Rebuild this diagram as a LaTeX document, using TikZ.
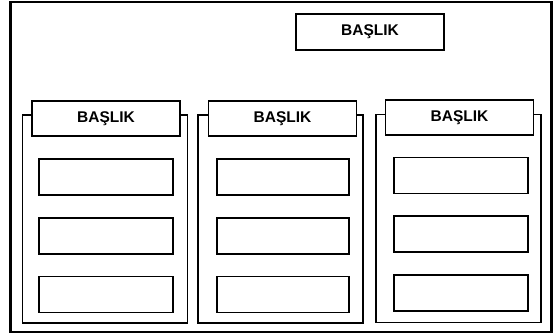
\documentclass[tikz,border=0pt]{standalone}
\usepackage{fontspec}
\newfontfamily\headfont{Liberation Sans}
\usetikzlibrary{positioning}
\tikzset{
  frame/.style  = {draw, line width=2.2pt, minimum width=541, minimum height=330, inner sep=0pt},
  column/.style = {draw, line width=1.7pt, minimum width=165, minimum height=208, inner sep=0pt},
  head/.style   = {draw, fill=white, line width=1.7pt, minimum width=148, minimum height=35,
                   inner sep=0pt, font=\headfont\bfseries\fontsize{15.5}{18}\selectfont},
  item/.style   = {draw, line width=1.7pt, minimum width=134, minimum height=36, inner sep=0pt},
}

\begin{document}
\begin{tikzpicture}[x=1pt, y=-1pt, node distance=21pt]
\useasboundingbox (0,0) rectangle (553,335);

%% outer frame + title
\node[frame] (frame) at (281,167) {};
\node[head, minimum height=36] (title) at (370,32) {BAŞLIK};

%% columns
\node[column] (col1) at (105,219) {};
\node[column] (col2) at (280.5,219) {};
\node[column] (col3) at (458.5,218.5) {};

\node[head] (head1) at (106,118.5) {BAŞLIK};
\node[head] (head2) at (282.5,118.5) {BAŞLIK};
\node[head] (head3) at (459.5,117.5) {BAŞLIK};

%% items
\node[item] (item1a) at (106,177) {};
\node[item, below=of item1a] (item1b) {};
\node[item, below=of item1b] (item1c) {};

\node[item, minimum width=132] (item2a) at (283,177) {};
\node[item, minimum width=132, below=of item2a] (item2b) {};
\node[item, minimum width=132, below=of item2b] (item2c) {};

\node[item] (item3a) at (461,175.5) {};
\node[item, below=of item3a] (item3b) {};
\node[item, below=of item3b] (item3c) {};

\end{tikzpicture}
\end{document}
